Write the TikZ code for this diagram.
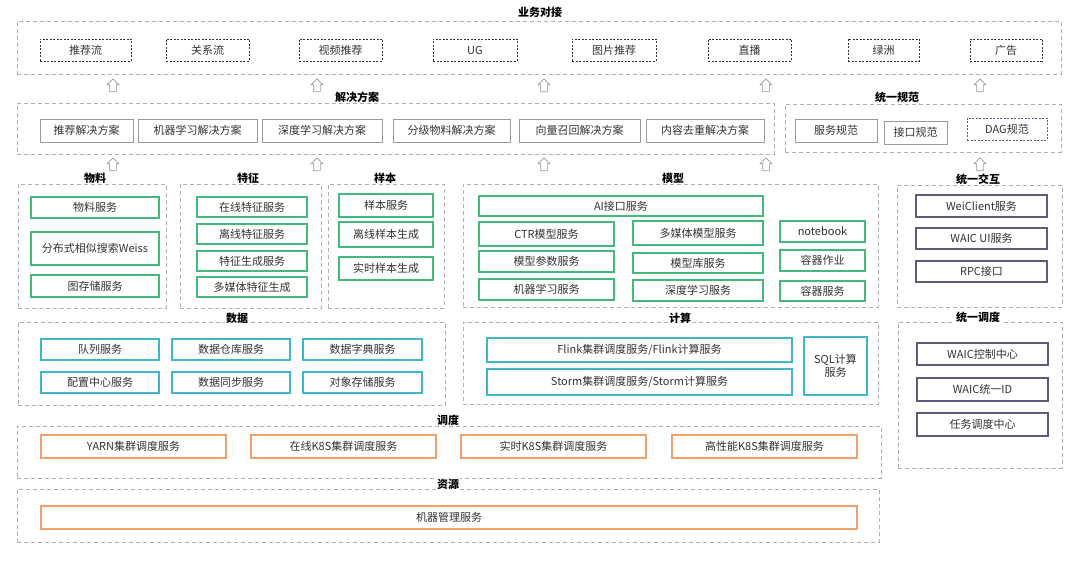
\documentclass[tikz,border=0pt]{standalone}
\usepackage{fontspec}
\setmainfont{Noto Sans CJK SC}
\usetikzlibrary{shapes.arrows}
\definecolor{grpc}{HTML}{B0B0B0}
\definecolor{grnc}{HTML}{45B97C}
\definecolor{cyac}{HTML}{3DB7C9}
\definecolor{orgc}{HTML}{F2A06A}
\definecolor{purc}{HTML}{5B5B7E}
\definecolor{gryc}{HTML}{9A9A9A}
\definecolor{txtc}{HTML}{333333}
\newcommand\mybox[7]{\node[#2, minimum width={(#5-#3)*1pt}, minimum height={(#6-#4)*1pt}] (#1) at ({(#3+#5)/2},{(#4+#6)/2}) {#7};}
\tikzset{
  base/.style={rectangle, inner sep=0pt, outer sep=0pt, text=txtc, font=\fontsize{11}{12.5}\selectfont, align=center},
  grp/.style={base, draw=grpc, dash pattern=on 4pt off 3pt, line width=0.8pt},
  biz/.style={base, draw=black!80, dash pattern=on 2pt off 1.5pt, line width=0.9pt},
  sol/.style={base, draw=gryc, line width=0.9pt},
  dag/.style={base, draw=purc, dash pattern=on 2pt off 1.5pt, line width=0.9pt},
  grn/.style={base, draw=grnc, line width=1.1pt},
  cya/.style={base, draw=cyac, line width=1.1pt},
  org/.style={base, draw=orgc, line width=1.1pt},
  pur/.style={base, draw=purc, line width=1.1pt},
  ttl/.style={fill=white, inner sep=1pt, text=black, font=\bfseries\fontsize{11}{13}\selectfont},
  uparr/.style={single arrow, draw=gryc, fill=white, line width=0.7pt, shape border rotate=90, minimum height=13pt, minimum width=11pt, single arrow head extend=2.5pt, inner sep=3pt}
}
\begin{document}
\begin{tikzpicture}[x=1pt, y=-1pt]
\useasboundingbox (0,0) rectangle (1080,561);
\fill[white] (0,0) rectangle (1080,561);
% group frames
\mybox{gbiz}{grp}{17}{21}{1061}{74}{}
\mybox{gsol}{grp}{17}{103}{774}{154}{}
\mybox{gspec}{grp}{785}{104}{1061}{152}{}
\mybox{gmat}{grp}{18}{184}{166}{308}{}
\mybox{gfea}{grp}{180}{184}{321}{308}{}
\mybox{gsam}{grp}{328}{184}{444}{308}{}
\mybox{gmod}{grp}{463}{184}{878}{307}{}
\mybox{ginter}{grp}{897}{185}{1062}{307}{}
\mybox{gdata}{grp}{18}{322}{445}{405}{}
\mybox{gcomp}{grp}{463}{322}{878}{404}{}
\mybox{gsched}{grp}{898}{322}{1062}{468}{}
\mybox{gdisp}{grp}{17}{426}{881}{478}{}
\mybox{gres}{grp}{17}{489}{879}{542}{}
% titles
\node[ttl] (tbiz) at (540,12) {业务对接};
\node[ttl] (tsol) at (357,97) {解决方案};
\node[ttl] (tspec) at (897,97) {统一规范};
\node[ttl] (tmat) at (95,178) {物料};
\node[ttl] (tfea) at (248,178) {特征};
\node[ttl] (tsam) at (385,178) {样本};
\node[ttl] (tmod) at (673,178) {模型};
\node[ttl] (tinter) at (978,179) {统一交互};
\node[ttl] (tdata) at (237,318) {数据};
\node[ttl] (tcomp) at (680,318) {计算};
\node[ttl] (tsched) at (978,317) {统一调度};
\node[ttl] (tdisp) at (448,420) {调度};
\node[ttl] (tres) at (448,484) {资源};
% business
\mybox{b1}{biz}{40}{39}{131}{61}{推荐流}
\mybox{b2}{biz}{166}{39}{249}{61}{关系流}
\mybox{b3}{biz}{299}{39}{382}{61}{视频推荐}
\mybox{b4}{biz}{433}{39}{517}{61}{UG}
\mybox{b5}{biz}{572}{39}{656}{61}{图片推荐}
\mybox{b6}{biz}{708}{39}{791}{61}{直播}
\mybox{b7}{biz}{848}{39}{919}{61}{绿洲}
\mybox{b8}{biz}{970}{39}{1042}{61}{广告}
% solutions
\mybox{s1}{sol}{40}{119}{133}{142}{推荐解决方案}
\mybox{s2}{sol}{138}{119}{257}{142}{机器学习解决方案}
\mybox{s3}{sol}{262}{119}{382}{142}{深度学习解决方案}
\mybox{s4}{sol}{393}{119}{510}{142}{分级物料解决方案}
\mybox{s5}{sol}{519}{119}{640}{142}{向量召回解决方案}
\mybox{s6}{sol}{646}{119}{764}{142}{内容去重解决方案}
\mybox{p1}{sol}{795}{119}{877}{142}{服务规范}
\mybox{p2}{sol}{884}{121}{947}{144}{接口规范}
\mybox{p3}{dag}{967}{118}{1047}{140}{DAG规范}
% arrows
\foreach \i/\x in {1/113,2/317,3/544,4/766,5/980}{
  \node[uparr] (ua\i) at (\x,87) {};
  \node[uparr] (ub\i) at (\x,166) {};
}
% material
\mybox{m1}{grn}{31}{197}{159}{218}{物料服务}
\mybox{m2}{grn}{31}{232}{159}{265}{分布式相似搜索Weiss}
\mybox{m3}{grn}{31}{275}{159}{297}{图存储服务}
% feature
\mybox{f1}{grn}{197}{197}{307}{217}{在线特征服务}
\mybox{f2}{grn}{197}{224}{307}{244}{离线特征服务}
\mybox{f3}{grn}{197}{251}{307}{271}{特征生成服务}
\mybox{f4}{grn}{197}{277}{307}{297}{多媒体特征生成}
% sample
\mybox{a1}{grn}{339}{194}{433}{217}{样本服务}
\mybox{a2}{grn}{339}{222}{433}{247}{离线样本生成}
\mybox{a3}{grn}{339}{257}{433}{280}{实时样本生成}
% model
\mybox{o1}{grn}{479}{196}{763}{216}{AI接口服务}
\mybox{o2}{grn}{479}{222}{614}{246}{CTR模型服务}
\mybox{o3}{grn}{633}{221}{763}{245}{多媒体模型服务}
\mybox{o4}{grn}{780}{221}{865}{242}{notebook}
\mybox{o5}{grn}{479}{251}{614}{272}{模型参数服务}
\mybox{o6}{grn}{633}{253}{763}{273}{模型库服务}
\mybox{o7}{grn}{780}{250}{865}{271}{容器作业}
\mybox{o8}{grn}{479}{279}{614}{300}{机器学习服务}
\mybox{o9}{grn}{633}{280}{763}{301}{深度学习服务}
\mybox{o10}{grn}{780}{281}{865}{301}{容器服务}
% interaction
\mybox{i1}{pur}{916}{195}{1047}{217}{WeiClient服务}
\mybox{i2}{pur}{916}{228}{1047}{249}{WAIC UI服务}
\mybox{i3}{pur}{916}{261}{1047}{282}{RPC接口}
% data
\mybox{d1}{cya}{41}{339}{159}{360}{队列服务}
\mybox{d2}{cya}{172}{339}{290}{360}{数据仓库服务}
\mybox{d3}{cya}{303}{339}{422}{360}{数据字典服务}
\mybox{d4}{cya}{41}{372}{159}{393}{配置中心服务}
\mybox{d5}{cya}{172}{372}{290}{393}{数据同步服务}
\mybox{d6}{cya}{303}{372}{422}{393}{对象存储服务}
% compute
\mybox{c1}{cya}{487}{338}{792}{362}{Flink集群调度服务/Flink计算服务}
\mybox{c2}{cya}{487}{369}{792}{395}{Storm集群调度服务/Storm计算服务}
\mybox{c3}{cya}{804}{337}{867}{395}{SQL计算\\服务}
% unified scheduling
\mybox{u1}{pur}{917}{343}{1048}{365}{WAIC控制中心}
\mybox{u2}{pur}{917}{378}{1048}{401}{WAIC统一ID}
\mybox{u3}{pur}{917}{413}{1048}{436}{任务调度中心}
% dispatch
\mybox{k1}{org}{41}{435}{226}{458}{YARN集群调度服务}
\mybox{k2}{org}{251}{435}{436}{458}{在线K8S集群调度服务}
\mybox{k3}{org}{461}{435}{646}{458}{实时K8S集群调度服务}
\mybox{k4}{org}{672}{435}{857}{458}{高性能K8S集群调度服务}
% resource
\mybox{r1}{org}{41}{506}{857}{529}{机器管理服务}
\end{tikzpicture}
\end{document}
